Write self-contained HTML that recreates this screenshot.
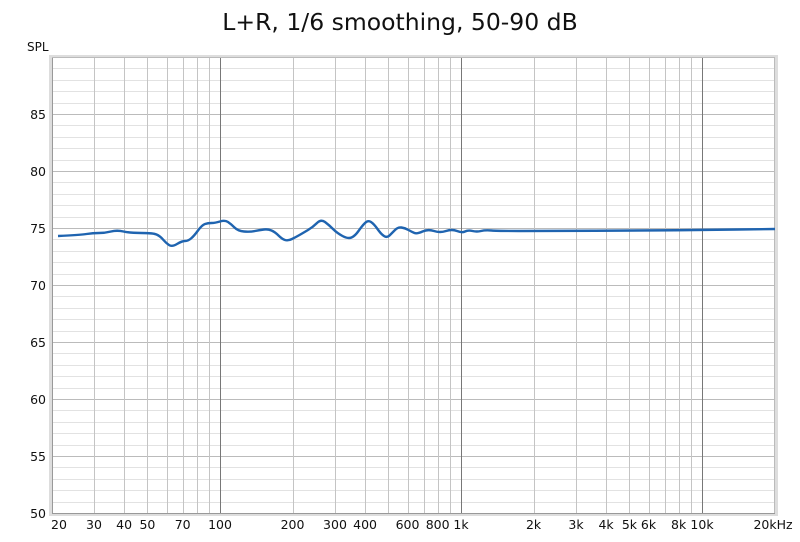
<!DOCTYPE html>
<html><head><meta charset="utf-8"><style>
body{margin:0;background:#fff;width:800px;height:537px;overflow:hidden}
svg text{font-family:"DejaVu Sans","Liberation Sans",sans-serif;fill:#111}
</style></head><body>
<svg width="800" height="537" xmlns="http://www.w3.org/2000/svg">
<text x="400" y="30" font-size="23.5" text-anchor="middle">L+R, 1/6 smoothing, 50-90 dB</text>
<text x="27" y="51" font-size="12">SPL</text>
<rect x="49" y="55" width="729" height="461" fill="#ddd"/>
<rect x="52" y="57" width="723" height="456" fill="#fff"/>
<g id="grid" stroke-width="1"></g>
<g font-size="12.5" text-anchor="end" id="yl"></g>
<g font-size="12.5" text-anchor="middle" id="xl"></g>
<path id="curve" fill="none" stroke="#1f64b0" stroke-width="2.4" stroke-linejoin="round" d=""/>
</svg>
<script>
var ns="http://www.w3.org/2000/svg",g=document.getElementById('grid');
function ln(x1,y1,x2,y2,c){var l=document.createElementNS(ns,'line');l.setAttribute('x1',x1);l.setAttribute('y1',y1);l.setAttribute('x2',x2);l.setAttribute('y2',y2);l.setAttribute('stroke',c);g.appendChild(l);}
function X(f){return 220+241*Math.log10(f/100);}
function Y(d){return 513-(d-50)*(456/40);}
for(var d=51;d<90;d++){ln(52,Math.round(Y(d))+.5,775,Math.round(Y(d))+.5,d%5==0?'#bbb':'#e2e2e2');}
var fs=[30,40,50,60,70,80,90,200,300,400,500,600,700,800,900,2000,3000,4000,5000,6000,7000,8000,9000];
fs.forEach(function(f){var x=Math.round(X(f))+.5;ln(x,57,x,513,'#c4c4c4');});
[100,1000,10000].forEach(function(f){var x=Math.round(X(f))+.5;ln(x,57,x,513,'#777');});
ln(52,513.5,775,513.5,'#999');ln(52.5,57,52.5,513,'#999');ln(52,57.5,775,57.5,'#bbb');ln(774.5,57,774.5,513,'#bbb');
var yl=document.getElementById('yl');
for(var d=50;d<=85;d+=5){var t=document.createElementNS(ns,'text');t.setAttribute('x',46);t.setAttribute('y',Y(d)+5);t.textContent=d;yl.appendChild(t);}
var xl=document.getElementById('xl');
[[20,'20'],[30,'30'],[40,'40'],[50,'50'],[70,'70'],[100,'100'],[200,'200'],[300,'300'],[400,'400'],[600,'600'],[800,'800'],[1000,'1k'],[2000,'2k'],[3000,'3k'],[4000,'4k'],[5000,'5k'],[6000,'6k'],[8000,'8k'],[10000,'10k'],[20000,'20kHz']].forEach(function(a){var t=document.createElementNS(ns,'text');var x=X(a[0]);if(a[0]==20)x=59;if(a[0]==20000)x=773;t.setAttribute('x',x);t.setAttribute('y',529);t.textContent=a[1];xl.appendChild(t);});
var p=[[58,236],[80,235],[93,233],[105,233],[117,230],[130,233],[153,233],[160,236],[166,243],[172,247],[182,241],[188,241],[194,236],[202,225],[208,223],[215,223],[225,220],[231,224],[238,231],[250,232],[260,230],[268,229],[275,232],[282,239],[288,241],[296,237],[303,233],[313,227],[321,219],[329,225],[337,233],[348,239],[355,236],[362,226],[368,220],[374,224],[381,234],[387,238],[392,233],[398,227],[405,228],[412,232],[417,234],[428,229],[440,233],[452,229],[462,233],[468,230],[477,232],[485,230],[498,231],[540,231],[650,230.5],[700,230],[775,229]];
var d="M"+p[0];for(var i=1;i<p.length-1;i++){var mx=(p[i][0]+p[i+1][0])/2,my=(p[i][1]+p[i+1][1])/2;d+=" Q"+p[i]+" "+mx+","+my;}d+=" L"+p[p.length-1];
document.getElementById('curve').setAttribute('d',d);
</script>
</body></html>
